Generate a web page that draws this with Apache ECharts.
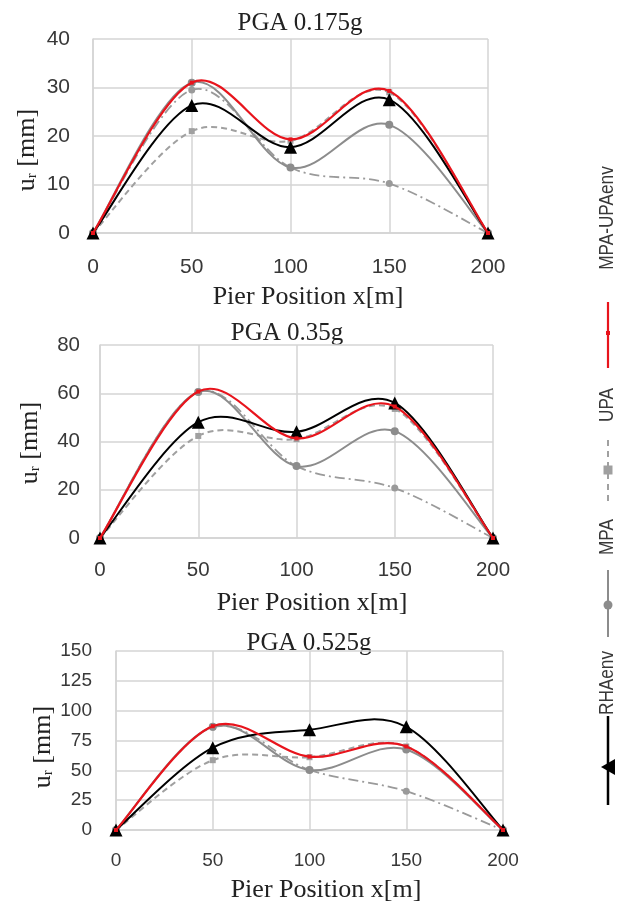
<!DOCTYPE html>
<html><head><meta charset="utf-8">
<script src="https://cdn.jsdelivr.net/npm/echarts@6/dist/echarts.min.js"></script>
<style>html,body{margin:0;padding:0;background:#fff}#c{width:621px;height:915px}</style>
</head><body><div id="c"></div>
<script>
// ---- data ----
const pierPositions = [0, 50, 100, 150, 200];
const panelTitles = ['PGA 0.175g', 'PGA 0.35g', 'PGA 0.525g'];
const legendNames = ['RHAenv', 'MPA', 'UPA', 'MPA-UPAenv'];
const yMaxes = [40, 80, 150];
const yIntervals = [10, 20, 25];

// PGA 0.175g
const rhaEnv_1 = [0, 26.3, 17.7, 27.5, 0];
const mpa_1 = [0, 31, 13.5, 22.3, 0];
const upa_1 = [0, 21, 19, 29, 0];
const mpaUpaEnv_1 = [0, 31, 19.3, 29.3, 0];
const mpaAlt_1 = [0, 29.5, 13.5, 10.2, 0];
// PGA 0.35g
const rhaEnv_2 = [0, 48, 44, 56, 0];
const mpa_2 = [0, 60.5, 29.8, 44.3, 0];
const upa_2 = [0, 42.3, 41, 53.5, 0];
const mpaUpaEnv_2 = [0, 60.7, 41.3, 54.5, 0];
const mpaAlt_2 = [0, 60.5, 29.8, 20.7, 0];
// PGA 0.525g
const rhaEnv_3 = [0, 69, 84, 86.5, 0];
const mpa_3 = [0, 86.5, 50.3, 67.5, 0];
const upa_3 = [0, 58.5, 61, 70, 0];
const mpaUpaEnv_3 = [0, 87, 61.5, 70, 0];
const mpaAlt_3 = [0, 86, 50.3, 32.5, 0];

const panels = [
  {rha: rhaEnv_1, mpa: mpa_1, upa: upa_1, env: mpaUpaEnv_1, alt: mpaAlt_1},
  {rha: rhaEnv_2, mpa: mpa_2, upa: upa_2, env: mpaUpaEnv_2, alt: mpaAlt_2},
  {rha: rhaEnv_3, mpa: mpa_3, upa: upa_3, env: mpaUpaEnv_3, alt: mpaAlt_3}
];

// ---- layout ----
const grids = [
  {left: 93, top: 39, width: 395, height: 194},
  {left: 100, top: 345, width: 393, height: 193},
  {left: 116, top: 651, width: 387, height: 179}
];
const tickFont = [21, 20.5, 19];
const xLabelMargin = [24, 22, 21];
const yLabelMargin = [23, 20, 24];
const xNameGap = [51, 52, 47];
const xNameShift = [35, 31, 33];
const titlePos = [[300, 23], [287, 333], [309, 643]];
const yNamePos = [[27, 150], [30, 443], [43, 747]];

const GRID = '#d4d4d4';
const TXT = '#383838';
const SERIF = '"Liberation Serif", "Times New Roman", serif';
const SANS = '"Liberation Sans", Arial, sans-serif';

const xAxis = [], yAxis = [], series = [], graphic = [];
const pairs = v => pierPositions.map((x, i) => [x, v[i]]);

// Excel-like smoothed curve (Catmull-Rom Bezier) drawn through the axes' coordinate mapping
function smoothCurve(vals, color, width, dash) {
  const n = vals.length;
  return function (params, api) {
    const i = params.dataIndex;
    if (i >= n - 1) return null;
    const P = k => {
      const j = Math.max(0, Math.min(n - 1, k));
      return api.coord([pierPositions[j], vals[j]]);
    };
    const p0 = P(i - 1), p1 = P(i), p2 = P(i + 1), p3 = P(i + 2);
    const t = 1 / 6;
    return {
      type: 'bezierCurve', silent: true,
      shape: {
        x1: p1[0], y1: p1[1], x2: p2[0], y2: p2[1],
        cpx1: p1[0] + (p2[0] - p0[0]) * t, cpy1: p1[1] + (p2[1] - p0[1]) * t,
        cpx2: p2[0] - (p3[0] - p1[0]) * t, cpy2: p2[1] - (p3[1] - p1[1]) * t
      },
      style: {stroke: color, lineWidth: width, lineDash: dash || null, fill: null}
    };
  };
}

function addLine(i, name, vals, color, width, dash, symbol, size, z) {
  series.push({
    type: 'custom', name: name, xAxisIndex: i, yAxisIndex: i, z: z,
    data: pairs(vals), renderItem: smoothCurve(vals, color, width, dash), animation: false
  });
  series.push({
    type: 'scatter', name: name, xAxisIndex: i, yAxisIndex: i, z: z + 0.5,
    data: pairs(vals), symbol: symbol, symbolSize: size, itemStyle: {color: color, opacity: 1}, animation: false
  });
}

panels.forEach((p, i) => {
  xAxis.push({
    type: 'value', gridIndex: i, min: 0, max: 200, interval: 50,
    axisLine: {show: true, lineStyle: {color: GRID, width: 1.5}},
    axisTick: {show: false},
    splitLine: {show: true, lineStyle: {color: GRID, width: 1.5}},
    axisLabel: {fontSize: tickFont[i], color: TXT, fontFamily: SANS, margin: xLabelMargin[i]},
    name: 'Pier Position x[m]', nameLocation: 'middle', nameGap: xNameGap[i],
    nameTextStyle: {fontFamily: SERIF, fontSize: 26, color: '#222', padding: [0, 0, 0, xNameShift[i]]}
  });
  yAxis.push({
    type: 'value', gridIndex: i, min: 0, max: yMaxes[i], interval: yIntervals[i],
    axisLine: {show: true, lineStyle: {color: GRID, width: 1.5}},
    axisTick: {show: false},
    splitLine: {show: true, lineStyle: {color: GRID, width: 1.5}},
    axisLabel: {fontSize: tickFont[i], color: TXT, fontFamily: SANS, margin: yLabelMargin[i]}
  });
  addLine(i, 'MPA (dash-dot)', p.alt, '#9a9a9a', 1.8, [10, 4, 2, 4], 'circle', 7, 2);
  addLine(i, legendNames[2], p.upa, '#a0a0a0', 2, [6, 4], 'rect', 6, 3);
  addLine(i, legendNames[1], p.mpa, '#8c8c8c', 2, null, 'circle', 8, 4);
  addLine(i, legendNames[0], p.rha, '#000000', 2, null, 'triangle', 13, 5);
  addLine(i, legendNames[3], p.env, '#e8141c', 2.2, null, 'rect', 4, 6);

  graphic.push({
    type: 'text', x: titlePos[i][0], y: titlePos[i][1],
    style: {text: panelTitles[i], font: '25px ' + SERIF, fill: '#222', align: 'center', verticalAlign: 'middle'}
  });
  graphic.push({
    type: 'text', x: yNamePos[i][0], y: yNamePos[i][1], rotation: Math.PI / 2,
    style: {
      text: '{a|u}{b|r}{a| [mm]}', align: 'center', verticalAlign: 'middle', fill: '#222',
      rich: {
        a: {fontSize: 26, fontFamily: SERIF, lineHeight: 26, verticalAlign: 'bottom', fill: '#222'},
        b: {fontSize: 15, fontFamily: SERIF, lineHeight: 15, verticalAlign: 'bottom', fill: '#222'}
      }
    }
  });
});

// ---- legend (rotated, drawn at right) ----
const LX = 608;
const legendText = (t, yc) => ({
  type: 'text', x: LX - 1, y: yc, rotation: Math.PI / 2, scaleX: 0.86,
  style: {text: t, font: '20px ' + SANS, fill: TXT, align: 'center', verticalAlign: 'middle'}
});
graphic.push(legendText(legendNames[3], 218));
graphic.push({type: 'line', shape: {x1: LX, y1: 302, x2: LX, y2: 368}, style: {stroke: '#e8141c', lineWidth: 2.2}});
graphic.push({type: 'rect', shape: {x: LX - 2, y: 331, width: 4, height: 4}, style: {fill: '#e8141c'}});

graphic.push(legendText(legendNames[2], 405));
graphic.push({type: 'line', shape: {x1: LX, y1: 440, x2: LX, y2: 502}, style: {stroke: '#a0a0a0', lineWidth: 2, lineDash: [6, 5]}});
graphic.push({type: 'rect', shape: {x: LX - 4.5, y: 465.5, width: 9, height: 9}, style: {fill: '#a0a0a0'}});

graphic.push(legendText(legendNames[1], 537));
graphic.push({type: 'line', shape: {x1: LX, y1: 570, x2: LX, y2: 637}, style: {stroke: '#8c8c8c', lineWidth: 2}});
graphic.push({type: 'circle', shape: {cx: LX, cy: 605, r: 4.5}, style: {fill: '#8c8c8c'}});

graphic.push(legendText(legendNames[0], 683));
graphic.push({type: 'line', shape: {x1: LX, y1: 716, x2: LX, y2: 805}, style: {stroke: '#000', lineWidth: 2.5}});
graphic.push({type: 'polygon', shape: {points: [[601, 767], [615, 759], [615, 775]]}, style: {fill: '#000'}});

const chart = echarts.init(document.getElementById('c'), null, {renderer: 'canvas'});
chart.setOption({
  animation: false,
  backgroundColor: '#fff',
  grid: grids,
  xAxis: xAxis,
  yAxis: yAxis,
  series: series,
  graphic: graphic
});
</script></body></html>
